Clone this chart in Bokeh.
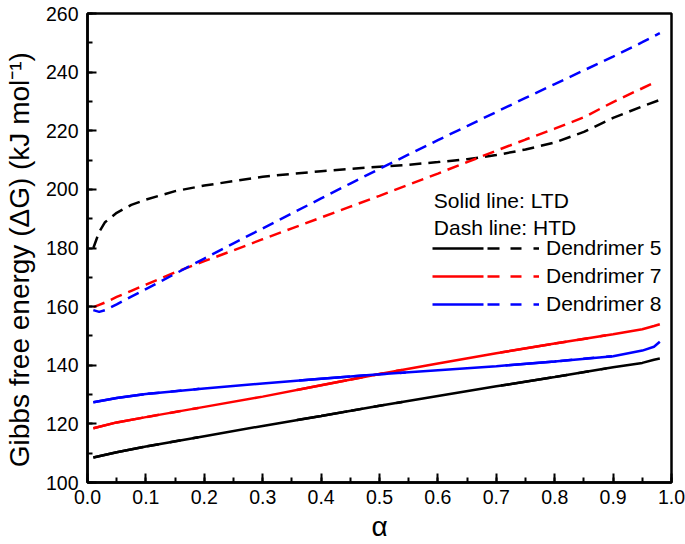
from bokeh.plotting import figure
from bokeh.models import (Range1d, SingleIntervalTicker, PrintfTickFormatter,
                          Legend, LegendItem, Label)
from bokeh.embed import file_html
from bokeh.resources import INLINE

# ---------------- data ----------------
x_ltd = [0.01, 0.05, 0.1, 0.2, 0.3, 0.4, 0.5, 0.6, 0.7, 0.8, 0.9, 0.95, 0.97, 0.98]
d5_ltd = [108.5, 110.3, 112.3, 115.8, 119.3, 122.7, 126.2, 129.5, 132.8, 136.0, 139.3, 140.8, 141.9, 142.3]
d7_ltd = [118.5, 120.5, 122.3, 125.8, 129.3, 133.2, 137.0, 140.6, 144.1, 147.4, 150.6, 152.3, 153.4, 154.0]
d8_ltd = [127.4, 128.8, 130.2, 132.1, 133.8, 135.4, 136.9, 138.3, 139.7, 141.3, 143.1, 145.0, 146.3, 148.0]

x_htd = [0.01, 0.02, 0.03, 0.05, 0.075, 0.1, 0.15, 0.2, 0.25, 0.3, 0.35, 0.4, 0.45,
         0.5, 0.55, 0.6, 0.65, 0.7, 0.75, 0.8, 0.85, 0.9, 0.95, 0.98]
d5_htd = [180.0, 185.5, 188.8, 192.0, 194.7, 196.5, 199.4, 201.3, 202.8, 204.3, 205.3, 206.2, 207.0,
          207.7, 208.4, 209.3, 210.3, 211.7, 213.6, 216.0, 219.6, 224.4, 228.3, 230.5]
d8_htd = [158.8, 158.2, 158.8, 160.8, 163.4, 166.0, 171.2, 176.4, 181.6, 186.7, 191.8, 196.9, 202.0,
          207.0, 211.9, 216.8, 221.6, 226.4, 231.2, 235.9, 240.6, 245.3, 250.2, 253.3]
x_d7_htd = [0.01, 0.02, 0.03, 0.05, 0.075, 0.1, 0.15, 0.2, 0.25, 0.3, 0.35, 0.4, 0.45,
            0.5, 0.55, 0.6, 0.65, 0.7, 0.75, 0.8, 0.85, 0.9, 0.95, 0.97]
d7_htd = [159.8, 160.6, 161.4, 163.3, 165.4, 167.5, 171.7, 175.5, 179.2, 183.0, 186.7, 190.4, 194.1,
          197.8, 201.6, 205.4, 209.3, 213.2, 217.0, 220.7, 224.6, 229.8, 234.5, 236.4]

names = ["Dendrimer 5", "Dendrimer 7", "Dendrimer 8"]
colors = ["black", "#ff0000", "#0000ff"]
header_lines = ["Solid line: LTD", "Dash line: HTD"]
x_title = "α"
y_title = "Gibbs free energy (ΔG) (kJ mol⁻¹)"

FONT = "Liberation Sans"

p = figure(width=685, height=544, output_backend="svg", toolbar_location=None,
           x_range=Range1d(0, 1.0), y_range=Range1d(100, 260),
           min_border_left=86, min_border_right=14, min_border_top=13, min_border_bottom=62)
p.background_fill_color = "white"
p.border_fill_color = "white"
p.grid.visible = False
p.outline_line_color = "black"
p.outline_line_width = 2.5

# axes
p.xaxis.ticker = SingleIntervalTicker(interval=0.1, num_minor_ticks=2)
p.yaxis.ticker = SingleIntervalTicker(interval=20, num_minor_ticks=2)
p.xaxis.formatter = PrintfTickFormatter(format="%.1f")
p.yaxis.formatter = PrintfTickFormatter(format="%d")
for ax in (p.xaxis, p.yaxis):
    ax.axis_line_width = 2.5
    ax.axis_line_color = "black"
    ax.major_tick_in = 9
    ax.major_tick_out = 0
    ax.minor_tick_in = 5
    ax.minor_tick_out = 0
    ax.major_tick_line_width = 2
    ax.minor_tick_line_width = 2
    ax.major_tick_line_color = "black"
    ax.minor_tick_line_color = "black"
    ax.major_label_text_font = FONT
    ax.major_label_text_font_size = "19.5px"
    ax.major_label_text_color = "black"
    ax.axis_label_text_font = FONT
    ax.axis_label_text_font_size = "28px"
    ax.axis_label_text_font_style = "normal"
    ax.axis_label_text_color = "black"
p.xaxis.major_label_standoff = 7
p.yaxis.major_label_standoff = 9
p.xaxis.axis_label = x_title
p.yaxis.axis_label = y_title + "\u00a0\u00a0\u00a0"
p.xaxis.axis_label_text_line_height = 0.7
p.xaxis.axis_label_standoff = 4
p.yaxis.axis_label_standoff = 8

# legend sample renderers (dash pattern drawn under the solid LTD curve)
ltd = [d5_ltd, d7_ltd, d8_ltd]
items = []
for n, ys, c in zip(names, ltd, colors):
    r = p.line(x_ltd, ys, line_color=c, line_width=2.5, line_dash="51 4 12 11 11 12 6 100")
    items.append(LegendItem(label=n, renderers=[r]))

# curves
htd_x = [x_htd, x_d7_htd, x_htd]
htd = [d5_htd, d7_htd, d8_htd]
for ys, c in zip(ltd, colors):
    p.line(x_ltd, ys, line_color=c, line_width=2.5)
for xs, ys, c in zip(htd_x, htd, colors):
    p.line(xs, ys, line_color=c, line_width=2.5, line_dash="12 7")

legend = Legend(items=items, location=(345, 166), glyph_width=107, glyph_height=20,
                label_height=20, label_standoff=7, spacing=4, padding=0, margin=0,
                border_line_alpha=0, background_fill_alpha=0,
                label_text_font=FONT, label_text_font_size="21px", label_text_color="black")
p.add_layout(legend)

for i, t in enumerate(header_lines):
    p.add_layout(Label(x=0.593, y=196.1 - 9.0 * i, text=t, text_font=FONT,
                       text_font_size="21px", text_color="black", text_baseline="alphabetic"))

open("out.html", "w").write(file_html(p, INLINE))
